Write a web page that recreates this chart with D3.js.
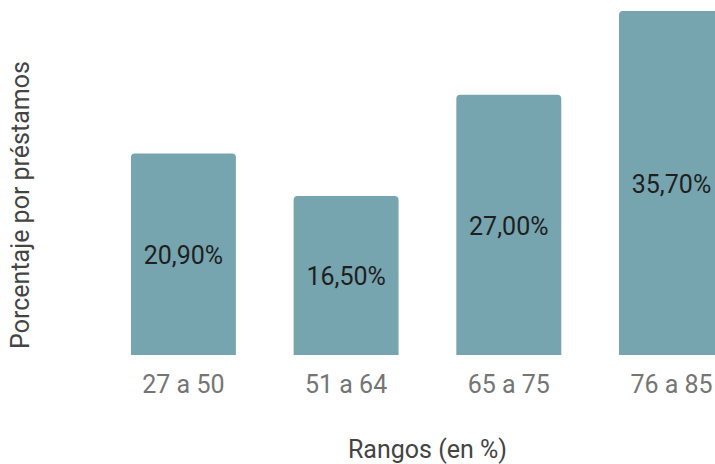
<!DOCTYPE html>
<html>
<head>
<meta charset="utf-8">
<script src="https://cdn.jsdelivr.net/npm/d3@7"></script>
<style>
  body { margin: 0; background: #fff; }
  svg { display: block; font-family: Roboto, "Noto Sans", sans-serif; }
</style>
</head>
<body>
<div id="container"></div>
<script>
let categories = ['27 a 50', '51 a 64', '65 a 75', '76 a 85'],
  values = [20.9, 16.5, 27.0, 35.7],
  valueLabels = ['20,90%', '16,50%', '27,00%', '35,70%'],
  width = 715,
  height = 464,
  baseline = 355

let svg = d3.select('#container')
  .append('svg')
  .attr('width', width)
  .attr('height', height)

let scale_x = d3.scaleBand()
  .domain(categories)
  .range([49.6, 805.3])
  .paddingInner(0.355)
  .paddingOuter(0.5)

let scale_y = d3.scaleLinear()
  .domain([0, 35.7])
  .range([baseline, 11])

// barras con esquinas superiores redondeadas
function barPath(d, i) {
  let x0 = scale_x(categories[i]), w = scale_x.bandwidth(),
    y0 = scale_y(d), r = 4
  return 'M' + x0 + ',' + baseline +
    'V' + (y0 + r) +
    'Q' + x0 + ',' + y0 + ' ' + (x0 + r) + ',' + y0 +
    'H' + (x0 + w - r) +
    'Q' + (x0 + w) + ',' + y0 + ' ' + (x0 + w) + ',' + (y0 + r) +
    'V' + baseline + 'Z'
}

svg.selectAll('path.bar')
  .data(values).enter().append('path')
  .attr('class', 'bar')
  .attr('d', barPath)
  .attr('fill', '#76a5af')

svg.selectAll('text.val')
  .data(values).enter().append('text')
  .attr('class', 'val')
  .attr('x', (d, i) => scale_x(categories[i]) + scale_x.bandwidth() / 2)
  .attr('y', d => (scale_y(d) + baseline) / 2 + 1)
  .attr('dy', '0.35em')
  .attr('text-anchor', 'middle')
  .attr('font-size', 25)
  .attr('fill', '#1f1f1f')
  .text((d, i) => valueLabels[i])

let x_axis = d3.axisBottom(scale_x).tickSize(0).tickPadding(20)
let gx = svg.append('g')
  .attr('transform', 'translate(0,' + baseline + ')')
  .call(x_axis)
gx.select('.domain').remove()
gx.selectAll('text')
  .attr('font-size', 25)
  .attr('fill', '#757575')
  .attr('font-family', 'Roboto, sans-serif')

svg.append('text')
  .attr('x', 427.5)
  .attr('y', 458)
  .attr('text-anchor', 'middle')
  .attr('font-size', 25)
  .attr('fill', '#444')
  .text('Rangos (en %)')

svg.append('text')
  .attr('transform', 'translate(29,205) rotate(-90)')
  .attr('text-anchor', 'middle')
  .attr('font-size', 25)
  .attr('fill', '#444')
  .text('Porcentaje por préstamos')
</script>
</body>
</html>
